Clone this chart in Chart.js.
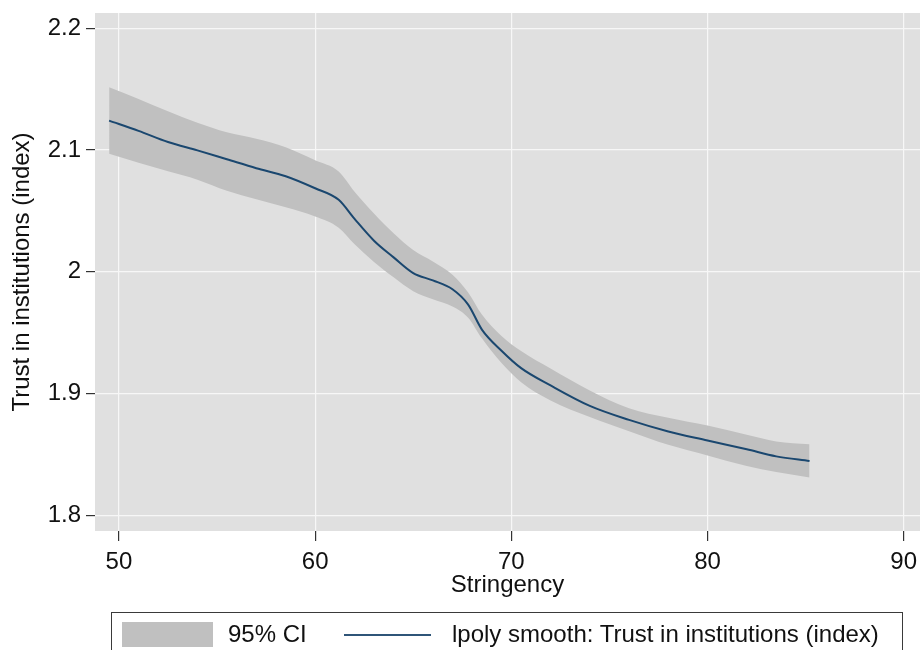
<!DOCTYPE html>
<html>
<head>
<meta charset="utf-8">
<script src="https://cdn.jsdelivr.net/npm/chart.js@4"></script>
<style>
  html, body { margin: 0; padding: 0; background: #fff; overflow: hidden; }
  #wrap { position: relative; width: 920px; height: 650px; }
  #legend { position: absolute; left: 111px; top: 612px; width: 790px; height: 60px;
    border: 1px solid #3a3a3a; font: 24px "Liberation Sans", Arial, sans-serif; color: #111; }
  #legend .sw { position: absolute; }
  #legend span { position: absolute; top: 7px; line-height: 28px; white-space: nowrap; }
</style>
</head>
<body>
<div id="wrap">
  <canvas id="c" width="920" height="650"></canvas>
  <div id="legend">
    <div class="sw" style="left:10px;top:9px;width:91px;height:25px;background:#c0c0c0"></div>
    <span style="left:116px">95% CI</span>
    <div class="sw" style="left:232px;top:21px;width:87px;height:2px;background:#2f5578"></div>
    <span style="left:340px">lpoly smooth: Trust in institutions (index)</span>
  </div>
</div>
<script>
'use strict';
// Stringency values (x) and read-off smooth + 95% CI bounds
const stringency = [49.5, 51, 52.5, 54, 55.5, 57, 58.5, 60, 61.2, 62, 63, 64, 65, 66, 67, 67.8, 68.5, 69.5, 70.5, 72, 74, 76, 78, 80, 82, 83.5, 85.2];
const smooth = [2.1242, 2.1158, 2.1066, 2.0997, 2.0924, 2.0851, 2.0785, 2.0686, 2.0591, 2.0436, 2.0255, 2.0118, 1.9989, 1.9929, 1.9856, 1.973, 1.9525, 1.9351, 1.9208, 1.9066, 1.8898, 1.8783, 1.8688, 1.8614, 1.8541, 1.8483, 1.8445];
const ciUpper = [2.1516, 2.142, 2.1319, 2.1225, 2.1146, 2.1092, 2.1023, 2.0916, 2.0824, 2.066, 2.0479, 2.0317, 2.0179, 2.0085, 1.9976, 1.9829, 1.9648, 1.9473, 1.9349, 1.9205, 1.9025, 1.8878, 1.88, 1.8736, 1.866, 1.8605, 1.8582];
const ciLower = [2.0969, 2.0895, 2.0825, 2.0756, 2.0665, 2.0596, 2.0529, 2.0454, 2.0362, 2.0228, 2.008, 1.9954, 1.984, 1.9774, 1.9715, 1.9623, 1.9453, 1.925, 1.9093, 1.8943, 1.8807, 1.869, 1.8578, 1.8491, 1.8405, 1.8354, 1.8309];
const xTicks = [50, 60, 70, 80, 90];
const yTicks = [1.8, 1.9, 2, 2.1, 2.2];

const FONT = { family: '"Liberation Sans", Arial, sans-serif', size: 24 };
const pts = (ys) => stringency.map((x, i) => ({ x, y: ys[i] }));

const plotBg = {
  id: 'plotBg',
  beforeDraw(chart) {
    const { ctx, chartArea: a } = chart;
    ctx.save();
    ctx.fillStyle = '#e0e0e0';
    ctx.fillRect(a.left, a.top, a.right - a.left, a.bottom - a.top);
    ctx.restore();
  },
};

new Chart(document.getElementById('c'), {
  type: 'line',
  data: {
    datasets: [
      // first dataset is drawn on top
      { label: 'lpoly smooth', data: pts(smooth), borderWidth: 2, pointRadius: 0, fill: false,
        borderColor: '#1a476f', cubicInterpolationMode: 'monotone' },
      { label: 'upper', data: pts(ciUpper), borderWidth: 0, pointRadius: 0, fill: '+1',
        backgroundColor: '#c0c0c0', borderColor: 'rgba(0,0,0,0)', cubicInterpolationMode: 'monotone' },
      { label: 'lower', data: pts(ciLower), borderWidth: 0, pointRadius: 0, fill: false,
        borderColor: 'rgba(0,0,0,0)', cubicInterpolationMode: 'monotone' },
    ],
  },
  options: {
    responsive: false, animation: false, events: [],
    layout: { padding: { top: 13, right: 0, bottom: 50, left: 0 } },
    plugins: { legend: { display: false }, tooltip: { enabled: false } },
    scales: {
      x: {
        type: 'linear', min: 48.78, max: 90.83,
        afterBuildTicks: (s) => { s.ticks = xTicks.map(v => ({ value: v })); },
        afterFit: (s) => { s.height = 69; s.paddingLeft = 0; s.paddingRight = 0; },
        grid: { color: '#f7f7f7', lineWidth: 1.2, tickColor: '#333', tickLength: 10 },
        border: { display: false },
        ticks: { color: '#111', font: FONT, padding: 7, maxRotation: 0, callback: (v) => String(v) },
        title: { display: true, text: 'Stringency', color: '#111', font: FONT, padding: { top: 1, bottom: 0 } },
      },
      y: {
        min: 1.787, max: 2.2126,
        afterBuildTicks: (s) => { s.ticks = yTicks.map(v => ({ value: v })); },
        afterFit: (s) => { s.width = 95; s.paddingTop = 0; s.paddingBottom = 0; },
        grid: { color: '#f7f7f7', lineWidth: 1.2, tickColor: '#333', tickLength: 9 },
        border: { display: false },
        ticks: { color: '#111', font: FONT, padding: 5, callback: (v) => String(Math.round(v * 10) / 10) },
        title: { display: true, text: 'Trust in institutions (index)', color: '#111', font: FONT, padding: { top: 8, bottom: 0 } },
      },
    },
  },
  plugins: [plotBg],
});
</script>
</body>
</html>
